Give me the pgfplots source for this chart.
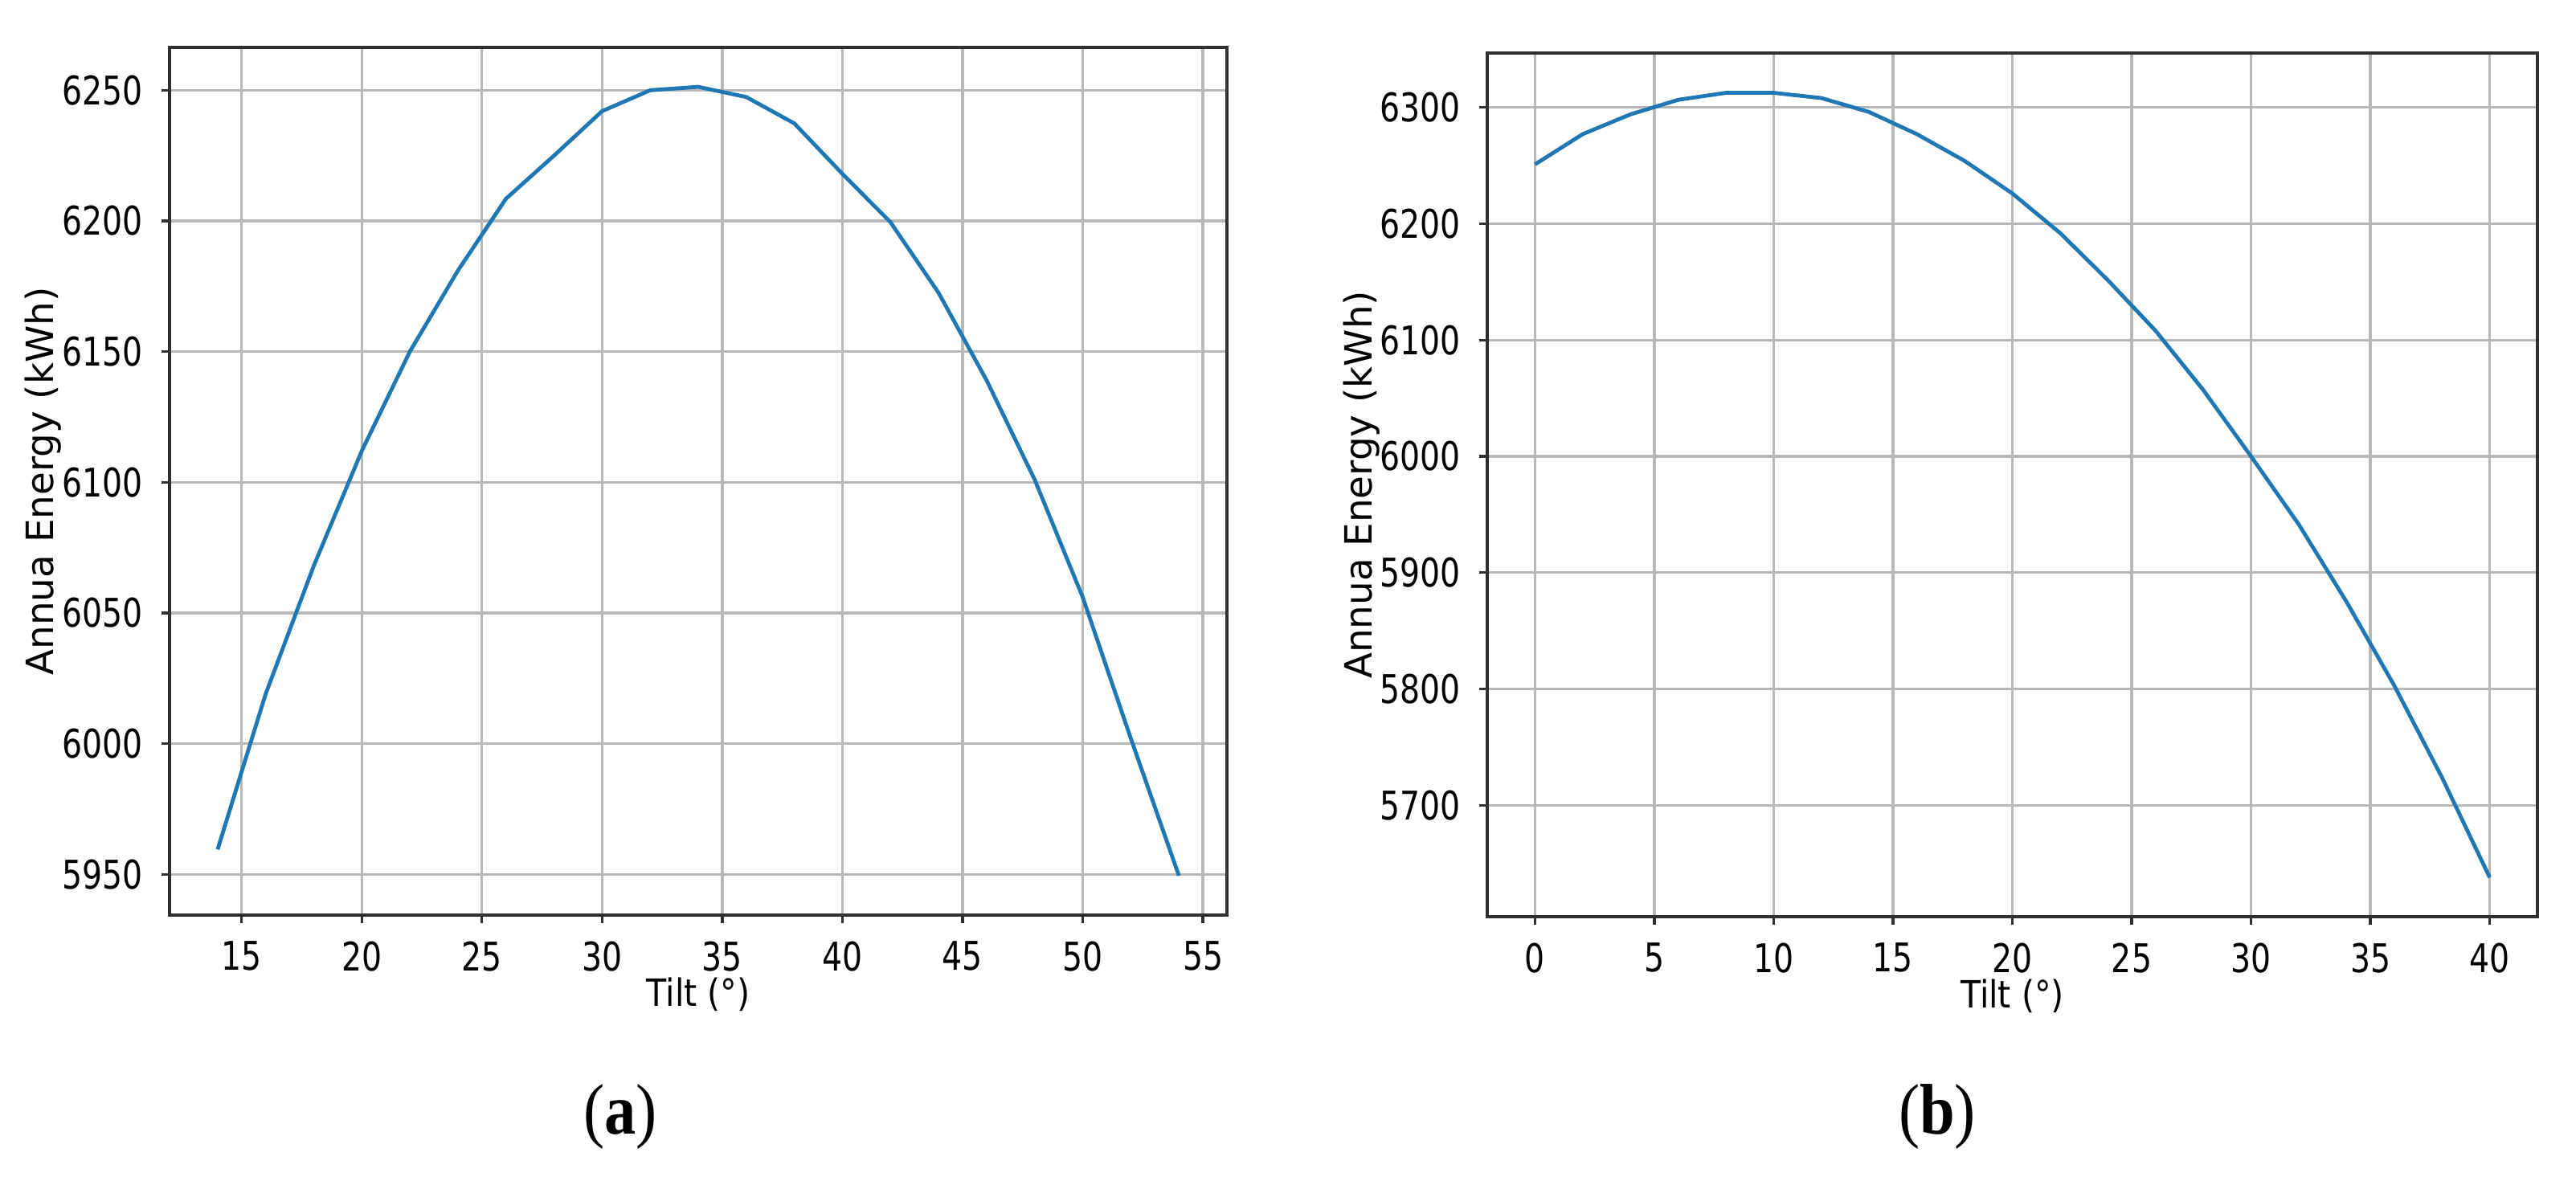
\documentclass[border=0pt]{standalone}
\usepackage{fontspec}
\setmainfont{DejaVu Sans}
\newfontfamily\capfont{Liberation Serif}
\usepackage{graphicx}
\usepackage{pgfplots}
\pgfplotsset{compat=1.18}
\definecolor{mplblue}{HTML}{1F77B4}
\definecolor{gridgray}{HTML}{B8B8B8}
\definecolor{framegray}{HTML}{303030}

\pgfplotstableread{
x y
14 5959.5
16 6019
18 6068
20 6112
22 6150
24 6181
26 6208.5
28 6225
30 6242
32 6250
34 6251.3
36 6247.4
38 6237.3
40 6218
42 6199.5
44 6172.5
46 6139
48 6101
50 6056
52 6002
54 5949.5
}\tableA

\pgfplotstableread{
x y
0 6251
2 6277
4 6294
6 6306.5
8 6312.5
10 6312.5
12 6308
14 6296
16 6277
18 6254
20 6226
22 6192
24 6151.5
26 6108
28 6057
30 6000
32 5941.5
34 5875
36 5803
38 5724
40 5638
}\tableB

\pgfplotsset{
  mystyle/.style={
    scale only axis, anchor=south west,
    axis line style={framegray, line width=1.1pt},
    grid=major, major grid style={gridgray, line width=0.8pt},
    tick align=outside, major tick length=2.5pt,
    tick style={framegray, line width=0.8pt},
    xtick pos=lower, ytick pos=left,
    /pgf/number format/assume math mode=true,
    tick label style={font=\fontsize{12.3}{14}\selectfont, inner sep=0pt},
    xticklabel style={anchor=north, yshift=-5.5pt},
    yticklabel style={anchor=east, xshift=-5.75pt},
    xticklabel={\scalebox{0.8}[1]{\pgfmathprintnumber[fixed,precision=0,1000 sep={}]{\tick}}},
    yticklabel={\scalebox{0.8}[1]{\pgfmathprintnumber[fixed,precision=0,1000 sep={}]{\tick}}},
    label style={font=\fontsize{11.7}{13}\selectfont, inner sep=0pt},
    xlabel style={at={([yshift=-28.5pt]rel axis cs:0.5,0)}, anchor=base},
    ylabel style={at={([xshift=-36pt]rel axis cs:0,0.5)}, rotate=0, anchor=base},
    xlabel={\scalebox{0.88}[1]{Tilt (°)}},
    ylabel={Annua Energy (kWh)},
  }
}

\begin{document}
\begin{tikzpicture}
\path[use as bounding box] (0,0) rectangle (801.5pt,366.25pt);

\begin{axis}[mystyle,
  at={(52.75pt,81.5pt)}, width=329pt, height=270pt,
  xmin=12, xmax=56, ymin=5934.4, ymax=6266.4,
  xtick={15,20,...,55}, ytick={5950,6000,...,6250}]
  \addplot[mplblue, line width=1.2pt] table[x=x,y=y] {\tableA};
\end{axis}

\begin{axis}[mystyle,
  at={(462.75pt,81pt)}, width=326.75pt, height=268.75pt,
  xmin=-2, xmax=42, ymin=5604.25, ymax=6346.75,
  xtick={0,5,...,40}, ytick={5700,5800,...,6300}]
  \addplot[mplblue, line width=1.2pt] table[x=x,y=y] {\tableB};
\end{axis}

\node[anchor=base, inner sep=0pt] at (193pt,13.25pt)
  {\capfont\fontsize{22.3}{26}\selectfont\scalebox{0.88}[1]{(\textbf{a})}};
\node[anchor=base, inner sep=0pt] at (602.75pt,13.25pt)
  {\capfont\fontsize{22.3}{26}\selectfont\scalebox{0.88}[1]{(\textbf{b})}};
\end{tikzpicture}
\end{document}
